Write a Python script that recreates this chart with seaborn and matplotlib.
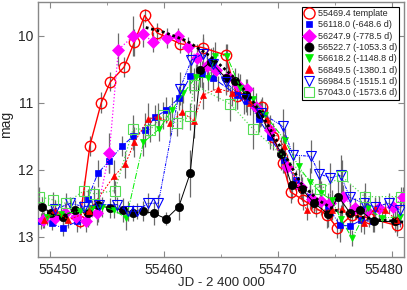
import matplotlib
matplotlib.use("Agg")
import matplotlib.pyplot as plt
import matplotlib.transforms as mtransforms
from matplotlib.lines import Line2D
from matplotlib.ticker import MultipleLocator
import seaborn as sns
import pandas as pd

# 55469.4 template (red open circles)
t_tpl = [55452.6, 55453.5, 55454.5, 55455.3, 55456.5, 55457.4, 55458.3, 55459.4, 55461.4, 55463.4, 55465.4,
         55466.4, 55468.6, 55469.6, 55470.4, 55471.1, 55472.2, 55473.3, 55474.3, 55475.2, 55476.5, 55478.0, 55480.4]
m_tpl = [12.77, 11.64, 11.00, 10.69, 10.47, 10.10, 9.70, 9.96, 10.12, 10.18, 10.29,
         10.90, 11.07, 11.51, 11.90, 12.33, 12.45, 12.57, 12.67, 12.87, 12.67, 12.72, 12.83]
e_tpl = [0.10, 0.15, 0.16, 0.14, 0.15, 0.20, 0.10, 0.15, 0.14, 0.15, 0.16,
         0.20, 0.15, 0.20, 0.15, 0.16, 0.15, 0.14, 0.20, 0.15, 0.15, 0.14, 0.15]

# 56118.0 (blue squares)
t_bsq = [55449.2, 55450.2, 55451.1, 55452.4, 55453.3, 55454.2, 55455.2, 55456.3, 55457.3, 55458.3, 55459.2,
         55460.2, 55461.3, 55462.3, 55463.3, 55464.3, 55466.4, 55467.3, 55468.3, 55469.3, 55470.5, 55471.6,
         55472.8, 55474.4, 55475.4, 55476.3, 55477.3, 55478.3, 55480.4]
m_bsq = [12.77, 12.80, 12.87, 12.77, 12.44, 12.05, 11.87, 11.65, 11.50, 11.41, 11.22,
         11.11, 10.93, 10.61, 10.58, 10.63, 10.89, 10.97, 11.24, 11.51, 11.85, 12.15,
         12.40, 12.55, 12.82, 12.84, 12.75, 12.77, 12.77]
e_bsq = [0.12, 0.10, 0.12, 0.15, 0.15, 0.20, 0.18, 0.15, 0.20, 0.25, 0.18,
         0.20, 0.18, 0.25, 0.20, 0.18, 0.20, 0.22, 0.20, 0.18, 0.20, 0.15,
         0.18, 0.20, 0.25, 0.15, 0.18, 0.15, 0.15]

# 56247.9 (magenta diamonds)
t_mag = [55449.4, 55450.4, 55451.3, 55452.3, 55453.2, 55454.1, 55455.2, 55456.0, 55457.3, 55458.2, 55459.0,
         55460.3, 55461.2, 55462.1, 55462.9, 55463.8, 55464.6, 55465.6, 55466.5, 55467.3, 55468.1, 55469.3,
         55470.8, 55472.0, 55472.95, 55473.8, 55474.6, 55475.7, 55476.75, 55477.8, 55478.9, 55480.1, 55481.0]
m_mag = [12.75, 12.72, 12.65, 12.70, 12.77, 12.65, 11.75, 10.21, 10.01, 9.97, 10.10,
         10.03, 10.00, 10.17, 10.33, 10.45, 10.52, 10.62, 10.74, 10.80, 11.06, 11.41,
         11.96, 12.25, 12.43, 12.47, 12.50, 12.40, 12.57, 12.62, 12.57, 12.55, 12.40]
e_mag = [0.12, 0.10, 0.15, 0.12, 0.15, 0.18, 0.30, 0.25, 0.30, 0.20, 0.15,
         0.15, 0.12, 0.15, 0.20, 0.18, 0.15, 0.20, 0.18, 0.15, 0.20, 0.22,
         0.20, 0.18, 0.15, 0.20, 0.15, 0.18, 0.15, 0.15, 0.18, 0.15, 0.15]

# 56522.7 (black circles)
t_blk = [55449.3, 55450.1, 55451.1, 55452.2, 55453.3, 55454.2, 55455.3, 55456.4, 55457.3, 55458.2, 55459.1,
         55460.2, 55461.3, 55462.3, 55463.2, 55464.1, 55465.4, 55466.2, 55467.2, 55468.4, 55470.3, 55471.2,
         55472.1, 55473.2, 55474.4, 55475.3, 55476.3, 55477.2, 55478.4, 55480.3]
m_blk = [12.55, 12.65, 12.70, 12.60, 12.65, 12.53, 12.57, 12.60, 12.64, 12.62, 12.65,
         12.73, 12.55, 12.05, 10.52, 10.39, 10.63, 10.68, 10.89, 11.17, 11.76, 12.23,
         12.29, 12.50, 12.66, 12.40, 12.64, 12.60, 12.77, 12.77]
e_blk = [0.15, 0.12, 0.12, 0.15, 0.20, 0.25, 0.15, 0.18, 0.12, 0.15, 0.18,
         0.10, 0.20, 0.35, 0.25, 0.20, 0.22, 0.20, 0.25, 0.20, 0.25, 0.20,
         0.18, 0.15, 0.20, 0.25, 0.18, 0.15, 0.15, 0.15]

# 56618.2 (green filled down-triangles)
t_grn = [55449.7, 55451.0, 55452.6, 55453.7, 55454.6, 55455.6, 55456.7, 55458.2, 55459.6, 55460.7, 55461.7,
         55462.8, 55463.9, 55464.5, 55465.5, 55466.7, 55467.8, 55468.9, 55470.6, 55471.8, 55472.8, 55473.8,
         55474.7, 55475.5, 55476.5, 55477.9, 55479.1, 55480.7]
m_grn = [12.70, 12.66, 12.62, 12.57, 12.55, 12.60, 12.72, 11.59, 11.39, 11.11, 10.86,
         10.62, 10.63, 10.30, 10.30, 10.78, 10.95, 11.19, 11.56, 11.95, 12.18, 12.35,
         12.45, 12.73, 13.02, 12.57, 12.72, 12.70]
e_grn = [0.12, 0.10, 0.15, 0.12, 0.15, 0.12, 0.18, 0.20, 0.18, 0.20, 0.15,
         0.20, 0.18, 0.20, 0.18, 0.20, 0.18, 0.20, 0.18, 0.15, 0.20, 0.18,
         0.15, 0.20, 0.12, 0.15, 0.15, 0.15]

# 56849.5 (red filled up-triangles)
t_red = [55449.5, 55450.4, 55451.6, 55453.4, 55455.6, 55456.6, 55457.4, 55458.6, 55459.5, 55460.5, 55461.6,
         55462.6, 55463.4, 55464.7, 55466.0, 55467.5, 55469.0, 55470.5, 55472.5, 55474.7, 55475.6, 55477.5,
         55478.5, 55479.4, 55480.4]
m_red = [12.75, 12.60, 12.75, 12.62, 12.10, 11.92, 11.59, 11.25, 11.20, 11.31, 11.14,
         11.27, 10.89, 10.79, 10.85, 11.00, 11.25, 11.65, 12.60, 12.60, 12.58, 12.80,
         12.57, 12.60, 12.75]
e_red = [0.12, 0.15, 0.12, 0.20, 0.25, 0.20, 0.22, 0.25, 0.20, 0.18, 0.25,
         0.25, 0.20, 0.18, 0.20, 0.18, 0.20, 0.18, 0.15, 0.15, 0.18, 0.15,
         0.15, 0.15, 0.15]

# 56984.5 (blue open down-triangles)
t_bot = [55450.4, 55451.8, 55453.0, 55454.3, 55455.9, 55456.8, 55457.6, 55458.6, 55459.5, 55461.4, 55462.4,
         55463.4, 55464.3, 55465.4, 55467.0, 55468.5, 55470.4, 55471.3, 55472.9, 55473.6, 55474.6, 55475.5,
         55476.3, 55477.5, 55478.5, 55479.7, 55480.7]
m_bot = [12.59, 12.50, 12.55, 12.52, 12.52, 12.62, 12.62, 12.50, 12.50, 10.79, 10.37,
         10.27, 10.42, 10.69, 10.95, 11.15, 11.35, 11.78, 11.80, 12.06, 12.12, 12.08,
         12.41, 12.50, 12.55, 12.50, 12.60]
e_bot = [0.12, 0.10, 0.12, 0.15, 0.12, 0.15, 0.12, 0.15, 0.12, 0.25, 0.20,
         0.30, 0.25, 0.20, 0.22, 0.20, 0.25, 0.20, 0.25, 0.20, 0.22, 0.30,
         0.20, 0.18, 0.15, 0.15, 0.15]

# 57043.0 (light green open squares)
t_lgr = [55449.0, 55450.3, 55451.4, 55453.0, 55453.9, 55455.7, 55457.3, 55458.8, 55459.9, 55461.1, 55462.3,
         55462.6, 55465.8, 55467.8, 55473.7, 55475.6, 55477.6, 55480.8]
m_lgr = [12.40, 12.45, 12.50, 12.31, 12.36, 12.31, 11.39, 11.40, 11.19, 11.31, 11.20,
         10.73, 11.02, 11.39, 12.29, 12.10, 12.40, 12.40]
e_lgr = [0.15, 0.12, 0.15, 0.15, 0.12, 0.15, 0.20, 0.18, 0.20, 0.18, 0.20,
         0.25, 0.25, 0.30, 0.20, 0.25, 0.20, 0.15]

# black dotted template curve
t_mod = [55458.4, 55460.0, 55462.0, 55464.0, 55466.0, 55467.5, 55469.0, 55470.5, 55472.0, 55473.5,
         55475.0, 55477.0, 55479.0, 55481.0]
m_mod = [9.88, 9.95, 10.08, 10.30, 10.60, 10.90, 11.30, 11.75, 12.20, 12.45,
         12.60, 12.70, 12.75, 12.78]

labels = ["55469.4 template", "56118.0 (-648.6 d)", "56247.9 (-778.5 d)", "56522.7 (-1053.3 d)",
          "56618.2 (-1148.8 d)", "56849.5 (-1380.1 d)", "56984.5 (-1515.1 d)", "57043.0 (-1573.6 d)"]
xticks = [55450, 55460, 55470, 55480]

sns.set_style("ticks")
plt.rcParams["font.family"] = ["Liberation Sans", "DejaVu Sans"]

fig = plt.figure(figsize=(4.07, 2.90), dpi=100)
ax = fig.add_axes([38 / 407, 33 / 290, 366 / 407, 255 / 290])

styles = [
    dict(color="#ff0000", marker="o", ms=7.5, mfc="none", mew=1.0, ls="-", lw=1.0),
    dict(color="#0000ff", marker="s", ms=4.5, mfc="#0000ff", mew=0.5, ls="-.", lw=0.7),
    dict(color="#ff00ff", marker="D", ms=6.5, mfc="#ff00ff", mew=0.5, ls=":", lw=0.9),
    dict(color="#000000", marker="o", ms=6.0, mfc="#000000", mew=0.5, ls="-", lw=0.7),
    dict(color="#00ee00", marker="v", ms=5.0, mfc="#00ee00", mew=0.5, ls="-.", lw=0.7),
    dict(color="#ff0000", marker="^", ms=5.0, mfc="#ff0000", mew=0.5, ls=(0, (2, 1.5)), lw=0.7),
    dict(color="#0000ff", marker="v", ms=7.0, mfc="none", mew=0.8, ls=(0, (3, 1, 1, 1, 1, 1)), lw=0.7),
    dict(color="#55dd55", marker="s", ms=6.5, mfc="none", mew=0.8, ls=":", lw=0.9),
]
data = [(t_tpl, m_tpl, e_tpl), (t_bsq, m_bsq, e_bsq), (t_mag, m_mag, e_mag), (t_blk, m_blk, e_blk),
        (t_grn, m_grn, e_grn), (t_red, m_red, e_red), (t_bot, m_bot, e_bot), (t_lgr, m_lgr, e_lgr)]

for (t, m, e), st in zip(data, styles):
    ax.errorbar(t, m, yerr=e, fmt="none", ecolor="#6a6a6a", elinewidth=0.9, zorder=1)

for i, ((t, m, e), st) in enumerate(zip(data, styles)):
    df = pd.DataFrame({"t": t, "m": m})
    sns.lineplot(data=df, x="t", y="m", ax=ax, sort=False, estimator=None, legend=False,
                 color=st["color"], marker=st["marker"], markersize=st["ms"],
                 markerfacecolor=st["mfc"], markeredgecolor=st["color"], markeredgewidth=st["mew"],
                 linestyle=st["ls"], linewidth=st["lw"], zorder=2 + i)

sns.lineplot(x=t_mod, y=m_mod, ax=ax, sort=False, estimator=None, color="black",
             linestyle=(0, (1, 1)), linewidth=2.0, zorder=12)

ax.set_xlim(55448.95, 55481.05)
ax.set_ylim(13.3, 9.5)
ax.set_xticks(xticks)
ax.set_xticklabels([str(v) for v in xticks])
ax.xaxis.set_minor_locator(MultipleLocator(5))
ax.yaxis.set_major_locator(MultipleLocator(1))
ax.tick_params(which="both", direction="in", top=True, right=True, color="#888888", labelsize=10)
ax.tick_params(axis="x", pad=4.5)
ax.tick_params(axis="y", pad=3.5)
ax.tick_params(which="major", length=4)
ax.tick_params(which="minor", length=2)
for s in ax.spines.values():
    s.set_color("#888888")
    s.set_linewidth(1.0)

ax.set_xlabel("JD - 2 400 000", fontsize=9.5)
ax.set_ylabel("mag", fontsize=10)
ax.xaxis.set_label_coords(0.5, -0.078)
ax.yaxis.set_label_coords(-0.068, 0.518)

# keep edge tick labels inside the frame
xt = ax.get_xticklabels()
xt[0].set_transform(xt[0].get_transform() + mtransforms.ScaledTranslation(7.5 / 100, 0, fig.dpi_scale_trans))
xt[-1].set_transform(xt[-1].get_transform() + mtransforms.ScaledTranslation(-8 / 100, 0, fig.dpi_scale_trans))

handles = [Line2D([], [], linestyle="none", marker=st["marker"], markersize=st["ms"] + 0.5,
                  markerfacecolor=st["mfc"], markeredgecolor=st["color"], markeredgewidth=st["mew"])
           for st in styles]
leg = ax.legend(handles, labels, loc="upper right", fontsize=6.5, frameon=True, fancybox=False,
                edgecolor="black", framealpha=1, borderaxespad=0.5, borderpad=0.3,
                labelspacing=0.25, handlelength=1.0, handletextpad=0.4)
leg.get_frame().set_linewidth(0.8)
leg.set_zorder(20)

fig.savefig("out.png", dpi=100)
